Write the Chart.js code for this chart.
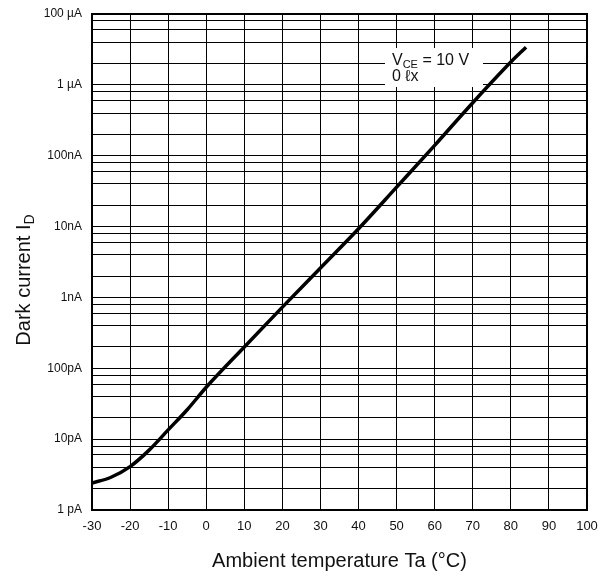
<!DOCTYPE html>
<html>
<head>
<meta charset="utf-8">
<script src="https://cdn.jsdelivr.net/npm/chart.js@4/dist/chart.umd.min.js"></script>
<style>
  html, body { margin: 0; padding: 0; background: #fff; }
  #wrap { width: 604px; height: 575px; }
</style>
</head>
<body>
<div id="wrap"><canvas id="darkChart" width="604" height="575"></canvas></div>
<script>
// valores (temperatura em °C, corrente em A)
const temps = [-30, -25, -20, -15, -10, -5, 0, 10, 20, 30, 40, 50, 60, 70, 80, 84];
const darkCurrent = [2.4e-12, 2.9e-12, 4.1e-12, 7.0e-12, 1.35e-11, 2.6e-11, 5.4e-11, 2.0e-10,
                     7.3e-10, 2.6e-9, 9.3e-9, 3.6e-8, 1.4e-7, 5.6e-7, 2.1e-6, 3.4e-6];
// rótulos das décadas, de baixo para cima (como impressos no original)
const yLabels = ['1 pA', '10pA', '100pA', '1nA', '10nA', '100nA', '1 \u00b5A', '100 \u00b5A'];
const xTicks = [-30, -20, -10, 0, 10, 20, 30, 40, 50, 60, 70, 80, 90, 100];
const minorSteps = [1, 2, 4, 6, 8];

const FONT = '"Liberation Sans", Arial, Helvetica, sans-serif';

// moldura, títulos e a legenda de condição
const framePlugin = {
    id: 'frame',
    beforeDatasetsDraw(chart) {
        const { ctx, chartArea: a } = chart;
        ctx.save();
        ctx.strokeStyle = '#000';
        ctx.lineWidth = 2;
        ctx.strokeRect(a.left, a.top, a.right - a.left, a.bottom - a.top);

        // caixa de condição
        const bx = a.left + 293, by = a.top + 34;
        ctx.fillStyle = '#fff';
        ctx.fillRect(bx, by, 98, 39);
        ctx.fillStyle = '#111';
        ctx.textBaseline = 'alphabetic';
        ctx.textAlign = 'left';
        ctx.font = '16px ' + FONT;
        let x = bx + 7;
        ctx.fillText('V', x, by + 17);
        x += ctx.measureText('V').width;
        ctx.font = '11px ' + FONT;
        ctx.fillText('CE', x, by + 20);
        x += ctx.measureText('CE').width;
        ctx.font = '16px ' + FONT;
        ctx.fillText(' = 10 V', x, by + 17);
        ctx.fillText('0 \u2113x', bx + 7, by + 33);
        ctx.restore();
    },
    afterDraw(chart) {
        const { ctx, chartArea: a } = chart;
        ctx.save();
        ctx.fillStyle = '#111';
        ctx.font = '20px ' + FONT;
        ctx.textAlign = 'center';
        ctx.textBaseline = 'middle';
        ctx.fillText('Ambient temperature Ta (\u00b0C)', (a.left + a.right) / 2, 561);

        // título do eixo y com subscrito
        ctx.translate(23, 280);
        ctx.rotate(-Math.PI / 2);
        ctx.font = '20px ' + FONT;
        const main = 'Dark current I';
        const w1 = ctx.measureText(main).width;
        ctx.font = '14px ' + FONT;
        const w2 = ctx.measureText('D').width;
        const start = -(w1 + w2) / 2;
        ctx.textAlign = 'left';
        ctx.textBaseline = 'alphabetic';
        ctx.font = '20px ' + FONT;
        ctx.fillText(main, start, 7);
        ctx.font = '14px ' + FONT;
        ctx.fillText('D', start + w1, 11);
        ctx.restore();
    }
};

function createDarkChart() {
    const ctx = document.getElementById('darkChart').getContext('2d');

    new Chart(ctx, {
        type: 'line',
        data: {
            labels: temps,
            datasets: [{
                data: temps.map((t, i) => ({ x: t, y: darkCurrent[i] })),
                borderColor: '#000',
                borderWidth: 3.5,
                pointRadius: 0,
                cubicInterpolationMode: 'monotone',
                fill: false
            }]
        },
        options: {
            responsive: false,
            animation: false,
            layout: { padding: { left: 0, right: 17, top: 14, bottom: 0 } },
            plugins: { legend: { display: false }, tooltip: { enabled: false } },
            scales: {
                x: {
                    type: 'linear',
                    min: -30,
                    max: 100,
                    afterBuildTicks: s => { s.ticks = xTicks.map(v => ({ value: v })); },
                    afterFit: s => {
                        s.height = 65;
                        s.paddingLeft = 0;
                        s.paddingRight = 0;
                    },
                    grid: { color: '#000', lineWidth: 1, drawTicks: false },
                    border: { color: '#000', width: 2 },
                    ticks: { color: '#111', padding: 9, maxRotation: 0, font: { family: FONT, size: 13 } }
                },
                y: {
                    type: 'logarithmic',
                    min: 1e-12,
                    max: 1e-5,
                    afterBuildTicks: s => {
                        const t = [];
                        for (let d = -12; d < -5; d++) {
                            minorSteps.forEach(m => t.push({ value: m * Math.pow(10, d) }));
                        }
                        t.push({ value: 1e-5 });
                        s.ticks = t;
                    },
                    afterFit: s => {
                        s.width = 92;
                        s.paddingTop = 0;
                        s.paddingBottom = 0;
                    },
                    grid: { color: '#000', lineWidth: 1, drawTicks: false },
                    border: { color: '#000', width: 2 },
                    ticks: {
                        color: '#111',
                        padding: 10,
                        autoSkip: false,
                        font: { family: FONT, size: 12 },
                        callback: v => {
                            const lg = Math.log10(v);
                            if (Math.abs(lg - Math.round(lg)) > 1e-6) return '';
                            return yLabels[Math.round(lg) + 12];
                        }
                    }
                }
            }
        },
        plugins: [framePlugin]
    });
}

document.addEventListener('DOMContentLoaded', createDarkChart);
</script>
</body>
</html>
